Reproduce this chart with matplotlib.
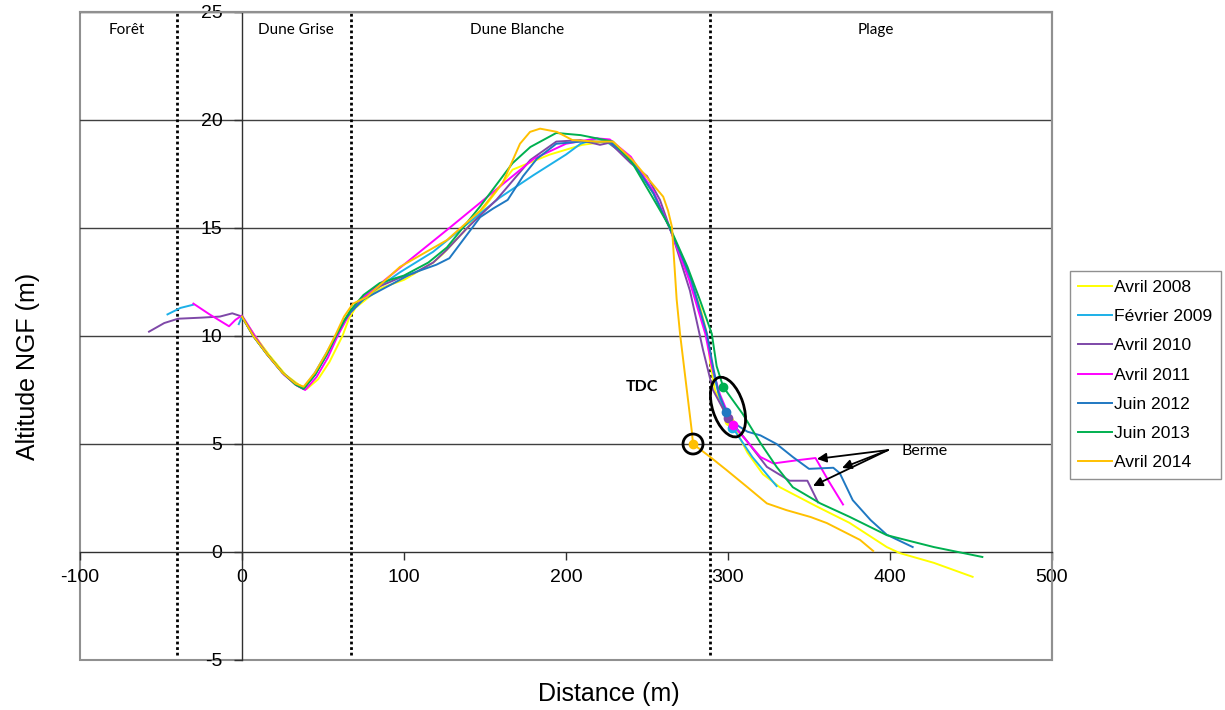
import matplotlib
matplotlib.use('Agg')
import matplotlib.pyplot as plt
from matplotlib.patches import Ellipse, Circle, Rectangle
from matplotlib.transforms import IdentityTransform

plt.rcParams['font.family'] = ['Liberation Sans', 'DejaVu Sans']
plt.rcParams['axes.unicode_minus'] = False

nan = float('nan')

labels = ['Avril 2008', 'Février 2009', 'Avril 2010', 'Avril 2011',
          'Juin 2012', 'Juin 2013', 'Avril 2014']
colors = ['#FFFF00', '#1CB0E8', '#7E48A8', '#FF00FF',
          '#1F78C2', '#00B050', '#FFC000']

# profiles (distance m, altitude m NGF)
x_2008 = [0, 8, 17, 27, 35, 40, 47, 54, 62, 66, 70, 75, 85, 100, 118, 124,
          139, 150, 167, 190, 210, 225, 240, 254, 264, 275, 283, 287, 289,
          292, 300, 303, 312, 321.6, 332, 355, 375, 398, 406, 427, 451]
y_2008 = [10.9, 10.0, 9.1, 8.2, 7.75, 7.55, 8.0, 8.8, 10.0, 10.8, 11.3,
          11.6, 12.2, 12.6, 13.4, 13.8, 15.0, 16.0, 17.7, 18.4, 18.85, 19.0,
          18.2, 16.6, 15.0, 12.9, 11.3, 10.1, 8.75, 7.5, 6.07, 5.9, 4.6, 3.6,
          3.0, 2.1, 1.35, 0.23, -0.05, -0.5, -1.15]

x_2009 = [-46, -38, -30, nan, -2, 0, 7, 15, 25, 33, 38, 45, 52, 58, 63, 67,
          75, 85, 97.5, 118, 136, 159, 180, 200, 209, 219, 225, 240, 254,
          264, 277, 287, 291, 295, 302.5, 315, 330]
y_2009 = [11.0, 11.3, 11.45, nan, 10.55, 10.9, 10.0, 9.2, 8.3, 7.8, 7.6,
          8.3, 9.2, 10.0, 10.7, 11.1, 11.7, 12.3, 12.95, 13.9, 15.0, 16.4,
          17.45, 18.4, 18.9, 19.15, 19.0, 18.2, 16.6, 15.0, 12.6, 10.0, 8.3,
          7.1, 5.8, 4.4, 3.05]

x_2010 = [-57.4, -48, -39.5, -25, -13.6, -6, 0, 7, 15, 25, 33, 38, 45, 52,
          58, 63, 67, 75, 85, 97.5, 106, 118, 126.5, 139, 157, 178, 194,
          209, 221, 227, 240, 250, 258, 266, 276.5, 284.6, 290.7, 300, 310,
          324, 338, 349, 355.6]
y_2010 = [10.2, 10.6, 10.8, 10.85, 10.9, 11.05, 10.9, 10.0, 9.2, 8.3, 7.75,
          7.55, 8.2, 9.1, 10.0, 10.7, 11.1, 11.8, 12.3, 12.7, 12.9, 13.4,
          14.0, 15.0, 16.3, 18.15, 19.0, 19.07, 18.85, 18.95, 18.0, 17.4,
          16.3, 14.6, 12.1, 9.35, 7.5, 6.2, 5.3, 3.94, 3.3, 3.3, 2.3]

x_2011 = [-30, -20, -8, -4, 0, 8, 16, 26, 34, 39, 46, 53, 59, 64, 67, 75,
          85, 128, 180, 200, 219, 227, 240, 254, 264, 276, 286, 290, 295,
          303, 312, 320, 328, 344, 354, 362, 371]
y_2011 = [11.5, 11.0, 10.45, 10.75, 10.95, 10.0, 9.1, 8.2, 7.7, 7.5, 8.1,
          9.0, 10.0, 10.7, 11.1, 11.8, 12.4, 15.0, 18.2, 18.9, 19.15, 19.1,
          18.3, 16.7, 15.0, 12.6, 10.1, 8.6, 7.3, 5.88, 5.1, 4.4, 4.1, 4.26,
          4.35, 3.3, 2.2]

x_2012 = [0, 7, 15, 25, 33, 38, 45, 52, 58, 63, 67, 75, 85, 105, 120, 128,
          136, 147, 155, 164, 173.5, 182, 194, 209, 227, 240, 254, 264, 277,
          287, 291, 294, 298.8, 305, 312, 320, 330, 340, 350, 365, 369, 377,
          388, 398, 414]
y_2012 = [10.9, 10.0, 9.2, 8.3, 7.8, 7.6, 8.2, 9.1, 10.0, 10.7, 11.1, 11.7,
          12.1, 12.9, 13.3, 13.6, 14.4, 15.5, 15.9, 16.3, 17.4, 18.2, 18.9,
          19.0, 19.0, 18.2, 16.6, 15.0, 12.7, 10.1, 8.5, 7.4, 6.5, 5.9, 5.57,
          5.4, 5.0, 4.4, 3.85, 3.9, 3.65, 2.4, 1.48, 0.8, 0.23]

x_2013 = [0, 7, 15, 25, 33, 38, 45, 52, 58, 63, 67, 75, 85, 100, 115, 126.5,
          147, 167, 178, 194, 209, 229, 241, 252, 264, 275, 283, 290, 293,
          297, 309, 320, 330, 340, 357, 375, 398, 427, 457]
y_2013 = [10.9, 10.0, 9.2, 8.3, 7.75, 7.55, 8.2, 9.1, 10.0, 10.7, 11.2,
          11.9, 12.45, 12.8, 13.4, 14.1, 16.0, 18.0, 18.75, 19.4, 19.3, 19.0,
          18.0, 16.6, 15.05, 13.2, 11.6, 10.1, 8.6, 7.65, 6.4, 5.05, 3.94,
          3.0, 2.25, 1.63, 0.78, 0.23, -0.23]

x_2014 = [0, 7, 15, 25, 33, 38, 45, 52, 58, 63, 68.5, 77, 97.5, 126.5, 147,
          161, 171.6, 177.8, 184, 194.4, 204, 219, 229, 241, 260, 263, 265.4,
          268.3, 270.4, 277.8, 278.4, 289, 299, 312, 324, 336, 351, 361,
          381.5, 389.6]
y_2014 = [10.9, 10.0, 9.2, 8.3, 7.8, 7.65, 8.3, 9.2, 10.1, 10.9, 11.5, 11.8,
          13.2, 14.44, 15.8, 17.1, 18.9, 19.45, 19.6, 19.45, 19.07, 19.0,
          19.0, 18.15, 16.45, 15.8, 15.05, 11.7, 10.1, 5.5, 5.0, 4.4, 3.8,
          3.0, 2.25, 1.94, 1.62, 1.34, 0.56, 0.05]

# TDC points (top of dune cliff) per profile
tdc_x = [300.5, 302.5, 300, 303, 298.8, 297, 278.4]
tdc_y = [6.05, 5.75, 6.2, 5.88, 6.5, 7.65, 5.0]

zone_bounds = [-40, 67, 289]
zone_names = ['Forêt', 'Dune Grise', 'Dune Blanche', 'Plage']
zone_label_x = [-71, 33, 170, 391]

xs = [x_2008, x_2009, x_2010, x_2011, x_2012, x_2013, x_2014]
ys = [y_2008, y_2009, y_2010, y_2011, y_2012, y_2013, y_2014]

fig = plt.figure(figsize=(12.25, 7.1), dpi=100)
ax = fig.add_axes([80 / 1225, 50 / 710, 972 / 1225, 648 / 710])
ax.set_xlim(-100, 500)
ax.set_ylim(-5, 25)

# horizontal grid
for gy in [5, 10, 15, 20, 25]:
    ax.axhline(gy, color='#404040', lw=1, zorder=1)

# zone separators
for zb in zone_bounds:
    ax.plot([zb, zb], [-4.75, 25], color='k', lw=2,
            linestyle=(0, (1, 1)), zorder=2)

for name, zx in zip(zone_names, zone_label_x):
    ax.text(zx, 24.15, name, ha='center', va='center', fontsize=11,
            family=['Lato', 'DejaVu Sans'])

for x, y, c, lab in zip(xs, ys, colors, labels):
    ax.plot(x, y, color=c, lw=1.4, label=lab, zorder=3)

for tx, ty, c in zip(tdc_x, tdc_y, colors):
    ax.plot(tx, ty, 'o', color=c, ms=6, zorder=4)

# spines: axes cross at 0, grey outer frame
ax.spines['left'].set_position(('data', 0))
ax.spines['bottom'].set_position(('data', 0))
for s in ['left', 'bottom']:
    ax.spines[s].set_color('#303030')
    ax.spines[s].set_linewidth(1)
for s in ['top', 'right']:
    ax.spines[s].set_color('#909090')
    ax.spines[s].set_linewidth(1.5)
ax.add_patch(Rectangle((0, 0), 1, 1, transform=ax.transAxes, fill=False,
                       ec='#909090', lw=1.5, clip_on=False, zorder=0))

ax.set_xticks(range(-100, 501, 100))
ax.set_yticks(range(-5, 26, 5))
ax.tick_params(axis='both', labelsize=14, length=6, width=1,
               color='#303030', direction='out')
ax.tick_params(axis='x', pad=6)
ax.tick_params(axis='y', pad=8)

fig.text(609 / 1225, 1 - 694 / 710, 'Distance (m)', ha='center',
         va='center', fontsize=18)
fig.text(28 / 1225, 1 - 366 / 710, 'Altitude NGF (m)', ha='center',
         va='center', fontsize=18, rotation=90)

# annotations
ell_c = ax.transData.transform((300, 6.71))
ax.add_artist(Ellipse(ell_c, width=31, height=62, angle=18, fill=False,
                      ec='k', lw=2, transform=IdentityTransform(),
                      zorder=5))
circ_c = ax.transData.transform((tdc_x[-1], tdc_y[-1]))
ax.add_artist(Circle(circ_c, 10, fill=False, ec='k', lw=2,
                     transform=IdentityTransform(), zorder=5))

ax.text(247, 7.64, 'TDC', ha='center', va='center', fontsize=11.5,
        fontweight='bold', family=['Lato', 'DejaVu Sans'])
ax.text(407, 4.68, 'Berme', ha='left', va='center', fontsize=11.5,
        family=['Lato', 'DejaVu Sans'])
for hx, hy in [(354.9, 4.31), (370.4, 3.89), (352.5, 3.06)]:
    ax.annotate('', xy=(hx, hy), xytext=(398.8, 4.72),
                arrowprops=dict(arrowstyle='-|>', color='k', lw=1.3,
                                mutation_scale=14, shrinkA=0, shrinkB=0))

fig.legend(loc='center', bbox_to_anchor=(1145.5 / 1225, 1 - 375 / 710),
           fontsize=12.6, handlelength=1.9, handletextpad=0.15,
           labelspacing=0.8, borderpad=0.5, fancybox=False,
           edgecolor='#909090', framealpha=1)

fig.savefig('out.png', dpi=100)
